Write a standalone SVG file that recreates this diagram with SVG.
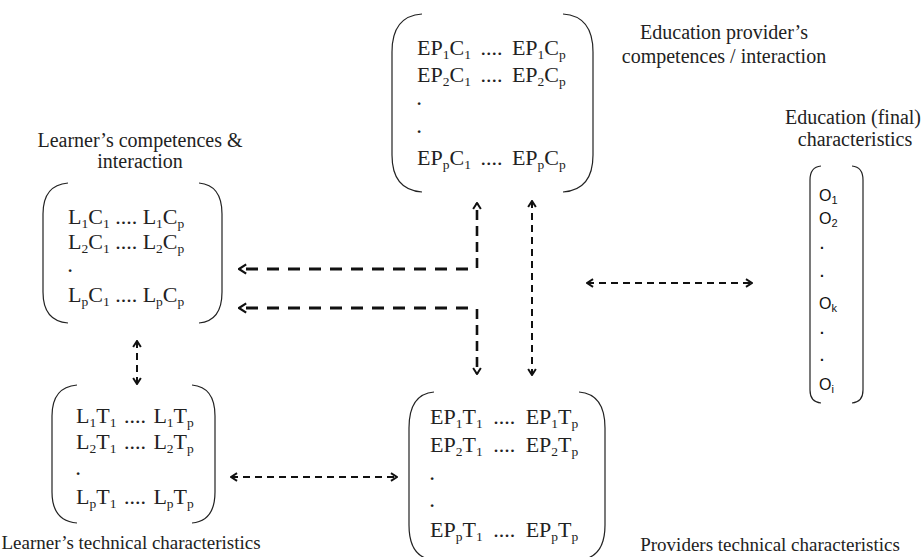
<svg xmlns="http://www.w3.org/2000/svg" width="921" height="557" viewBox="0 0 921 557">
<style>
.t{font-family:"Liberation Serif",serif;font-size:22px;fill:#222}
.d{font-family:"Liberation Serif",serif;font-size:17px;font-weight:bold;fill:#222}
.l{font-family:"Liberation Serif",serif;font-size:20px;fill:#222}
.lt{font-family:"Liberation Serif",serif;font-size:19px;fill:#222}
.o{font-family:"Liberation Sans",sans-serif;font-size:16px;fill:#111}
.od{font-family:"Liberation Sans",sans-serif;font-size:14px;font-weight:bold;fill:#111}
.s{font-size:13.5px;baseline-shift:-4px}
.so{font-size:11px;baseline-shift:-3px}
.b{fill:none;stroke:#222;stroke-width:1.2}
.a1{fill:none;stroke:#111;stroke-width:3;stroke-dasharray:12 9}
.a3{fill:none;stroke:#111;stroke-width:2.6;stroke-dasharray:10 6}
.a2{fill:none;stroke:#111;stroke-width:2;stroke-dasharray:7 5}
</style>
<defs>
<marker id="hb" viewBox="0 0 10 10" refX="9" refY="5" markerWidth="12" markerHeight="12" orient="auto-start-reverse" markerUnits="userSpaceOnUse">
<path d="M3 1.2 L9 5 L3 8.8" fill="none" stroke="#111" stroke-width="1.8"/>
</marker>
<marker id="hs" viewBox="0 0 10 10" refX="9" refY="5" markerWidth="11" markerHeight="11" orient="auto-start-reverse" markerUnits="userSpaceOnUse">
<path d="M3.5 1.5 L9 5 L3.5 8.5" fill="none" stroke="#111" stroke-width="1.8"/>
</marker>
</defs>

<g id="ep-competences">
<path class="b" d="M422 14 Q392 16 392 52 L392 155 Q392 190 422 192"/>
<path class="b" d="M563 14 Q593 16 593 52 L593 155 Q593 190 563 192"/>
<text class="t" x="417" y="55" word-spacing="4">EP<tspan class="s">1</tspan>C<tspan class="s">1</tspan> .... EP<tspan class="s">1</tspan>C<tspan class="s">p</tspan></text>
<text class="t" x="417" y="82" word-spacing="4">EP<tspan class="s">2</tspan>C<tspan class="s">1</tspan> .... EP<tspan class="s">2</tspan>C<tspan class="s">p</tspan></text>
<text class="d" x="417" y="105">.</text>
<text class="d" x="417" y="133">.</text>
<text class="t" x="417" y="165" word-spacing="4">EP<tspan class="s">p</tspan>C<tspan class="s">1</tspan> .... EP<tspan class="s">p</tspan>C<tspan class="s">p</tspan></text>
<text class="l" x="724" y="39" text-anchor="middle">Education provider’s</text>
<text class="l" x="724" y="63" text-anchor="middle">competences / interaction</text>
</g>

<g id="learner-competences">
<text class="l" x="140" y="147" text-anchor="middle">Learner’s competences &amp;</text>
<text class="l" x="140" y="168" text-anchor="middle">interaction</text>
<path class="b" d="M68 183 Q43 185 43 214 L43 292 Q43 321 68 323"/>
<path class="b" d="M199 183 Q222 185 222 214 L222 292 Q222 321 199 323"/>
<text class="t" x="68" y="224">L<tspan class="s">1</tspan>C<tspan class="s">1</tspan>  .... L<tspan class="s">1</tspan>C<tspan class="s">p</tspan></text>
<text class="t" x="68" y="249">L<tspan class="s">2</tspan>C<tspan class="s">1</tspan>  .... L<tspan class="s">2</tspan>C<tspan class="s">p</tspan></text>
<text class="d" x="68" y="272">.</text>
<text class="t" x="68" y="302">L<tspan class="s">p</tspan>C<tspan class="s">1</tspan>  .... L<tspan class="s">p</tspan>C<tspan class="s">p</tspan></text>
</g>

<g id="learner-technical">
<path class="b" d="M77 385 Q52 387 52 416 L52 492 Q52 521 77 523"/>
<path class="b" d="M192 385 Q215 387 215 416 L215 492 Q215 521 192 523"/>
<text class="t" x="76" y="423" word-spacing="2">L<tspan class="s">1</tspan>T<tspan class="s">1</tspan> .... L<tspan class="s">1</tspan>T<tspan class="s">p</tspan></text>
<text class="t" x="76" y="449" word-spacing="2">L<tspan class="s">2</tspan>T<tspan class="s">1</tspan> .... L<tspan class="s">2</tspan>T<tspan class="s">p</tspan></text>
<text class="d" x="76" y="475">.</text>
<text class="t" x="76" y="504" word-spacing="2">L<tspan class="s">p</tspan>T<tspan class="s">1</tspan> .... L<tspan class="s">p</tspan>T<tspan class="s">p</tspan></text>
<text class="lt" x="131" y="549" text-anchor="middle">Learner’s technical characteristics</text>
</g>

<g id="provider-technical">
<path class="b" d="M434 392 Q409 394 409 428 L409 525 Q409 558 434 560"/>
<path class="b" d="M579 392 Q605 394 605 428 L605 525 Q605 558 579 560"/>
<text class="t" x="430" y="424" word-spacing="5">EP<tspan class="s">1</tspan>T<tspan class="s">1</tspan> .... EP<tspan class="s">1</tspan>T<tspan class="s">p</tspan></text>
<text class="t" x="430" y="452" word-spacing="5">EP<tspan class="s">2</tspan>T<tspan class="s">1</tspan> .... EP<tspan class="s">2</tspan>T<tspan class="s">p</tspan></text>
<text class="d" x="430" y="480">.</text>
<text class="d" x="430" y="507">.</text>
<text class="t" x="430" y="537" word-spacing="5">EP<tspan class="s">p</tspan>T<tspan class="s">1</tspan> .... EP<tspan class="s">p</tspan>T<tspan class="s">p</tspan></text>
<text class="lt" x="770" y="551" text-anchor="middle">Providers technical characteristics</text>
</g>

<g id="education-final">
<text class="l" x="853" y="124" text-anchor="middle">Education (final)</text>
<text class="l" x="855" y="146" text-anchor="middle">characteristics</text>
<path class="b" d="M821 166 Q810 167 810 180 L810 390 Q810 402 821 403"/>
<path class="b" d="M852 166 Q863 167 863 180 L863 390 Q863 402 852 403"/>
<text class="o" x="819" y="201">O<tspan class="so">1</tspan></text>
<text class="o" x="819" y="224">O<tspan class="so">2</tspan></text>
<text class="od" x="820" y="249">.</text>
<text class="od" x="820" y="277">.</text>
<text class="o" x="819" y="309">O<tspan class="so">k</tspan></text>
<text class="od" x="820" y="334">.</text>
<text class="od" x="820" y="361">.</text>
<text class="o" x="819" y="390">O<tspan class="so">i</tspan></text>
</g>

<g id="connectors">
<path class="a1" d="M468 269 L239 269" marker-end="url(#hb)"/>
<path class="a3" d="M477 268 L477 203" marker-end="url(#hs)"/>
<path class="a1" d="M468 308 L239 308" marker-end="url(#hb)"/>
<path class="a3" d="M477 309 L477 374" marker-end="url(#hs)"/>
<path class="a2" d="M532 201 L532 375" marker-start="url(#hs)" marker-end="url(#hs)"/>
<path class="a2" d="M137 341 L137 384" marker-start="url(#hs)" marker-end="url(#hs)"/>
<path class="a2" d="M231 477 L397 477" marker-start="url(#hs)" marker-end="url(#hs)"/>
<path class="a2" d="M587 283 L752 283" marker-start="url(#hs)" marker-end="url(#hs)"/>
</g>
</svg>
